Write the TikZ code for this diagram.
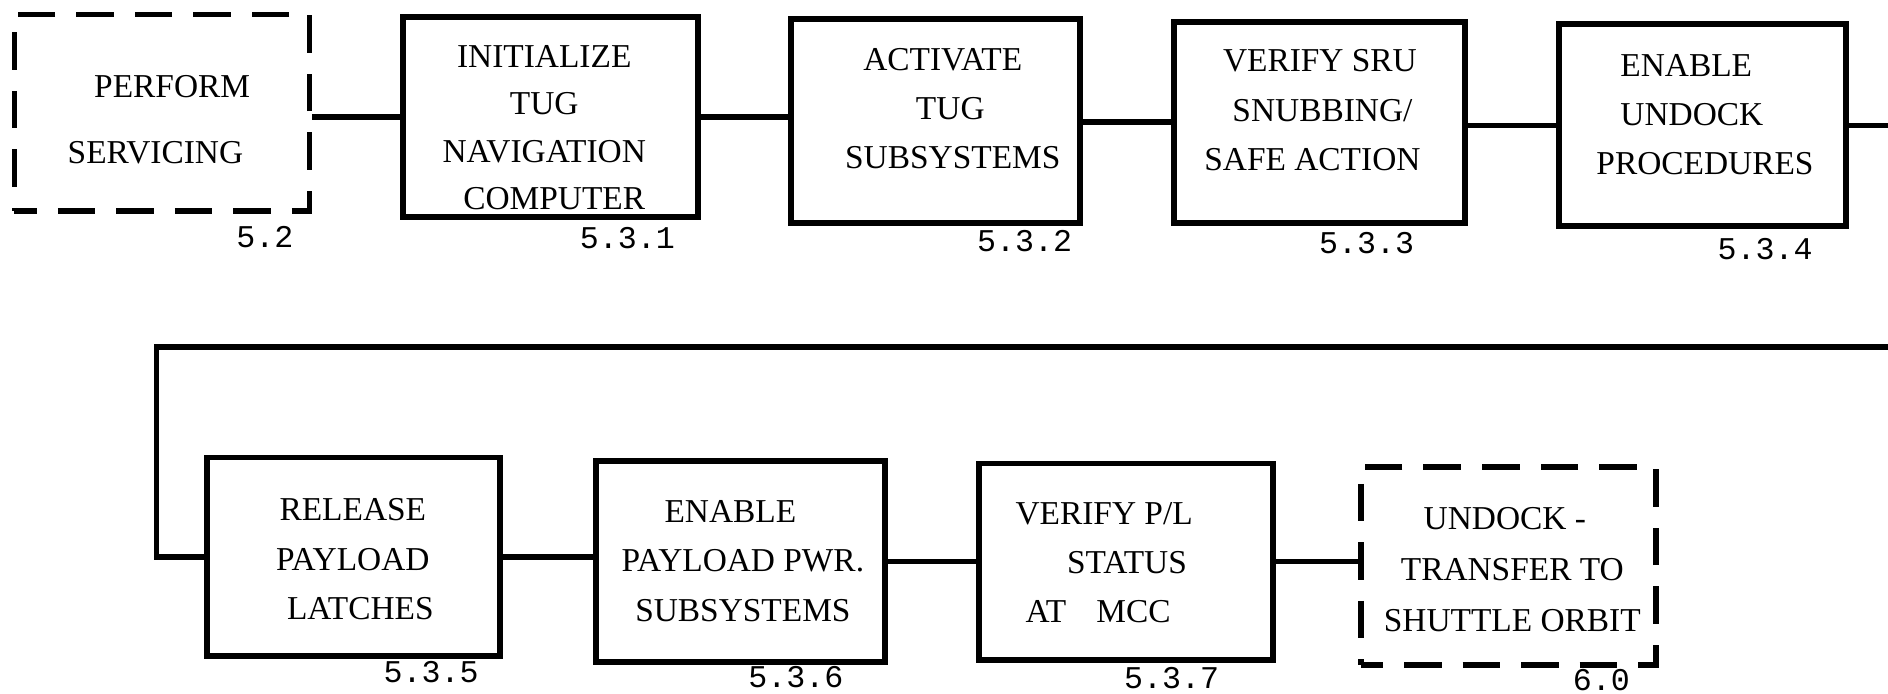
\documentclass[tikz,border=0pt]{standalone}
\usepackage{fontspec}
\setmainfont{Liberation Serif}
\setmonofont{Liberation Mono}
\usepackage{tikz}
\usetikzlibrary{positioning, calc}
\newcommand{\unitpx}{0.02408cm}

\begin{document}
\begin{tikzpicture}[
    x=0.02408cm, y=-0.02408cm,
    procbox/.style 2 args={draw, line width=3.3pt, minimum width=#1*\unitpx, minimum height=#2*\unitpx, inner sep=0pt},
    extbox/.style 2 args={procbox={#1}{#2}, dash pattern=on 0.75cm off 0.42cm, dash phase=0.3cm},
    txt/.style={align=center, font=\fontsize{19}{28}\selectfont, inner sep=0pt},
    num/.style={font=\ttfamily\fontsize{18}{18}\selectfont, inner sep=0pt},
    link/.style={line width=3.1pt},
]
    \useasboundingbox (0,0) rectangle (1568,576);

    % Top row
    \node[extbox={245}{163}] (perf) at (134.5, 93.5) {};
    \node[procbox={245}{166}] (init) at (457.5, 97) {};
    \node[procbox={240}{169}] (act) at (777, 100.5) {};
    \node[procbox={242}{167}] (sru) at (1096, 101.5) {};
    \node[procbox={238}{168}] (undk) at (1414, 104) {};

    % Bottom row
    \node[procbox={243}{165}] (rel) at (293.5, 462.5) {};
    \node[procbox={240}{167}] (pwr) at (615, 466.5) {};
    \node[procbox={244}{163}] (stat) at (935, 466.5) {};
    \node[extbox={245}{164}] (orb) at (1252.5, 470) {};

    % Box texts
    \node[txt, align=left] (perf-txt) at (132, 99.5) {\hspace*{0.53cm}PERFORM\\[9.7pt]SERVICING};
    \node[txt, font=\fontsize{19}{27}\selectfont] (init-txt) at (452, 106) {INITIALIZE\\TUG\\NAVIGATION\\\hspace*{0.4cm}COMPUTER};
    \node[txt] (act-txt) at (783, 90) {ACTIVATE\\\hspace*{0.3cm}TUG\\\hspace*{0.4cm}SUBSYSTEMS};
    \node[txt] (sru-txt) at (1090, 91.5) {\hspace*{0.3cm}VERIFY SRU\\\hspace*{0.4cm}SNUBBING/\\SAFE ACTION};
    \node[txt, align=left] (undk-txt) at (1416, 95) {\hspace*{0.48cm}ENABLE\\\hspace*{0.48cm}UNDOCK\\PROCEDURES};
    \node[txt] (rel-txt) at (293, 464.5) {RELEASE\\PAYLOAD\hspace*{0.3cm}\\\hspace*{0.3cm}LATCHES};
    \node[txt] (pwr-txt) at (617, 466) {ENABLE\hspace*{0.5cm}\\PAYLOAD PWR.\\SUBSYSTEMS};
    \node[txt, align=left] (stat-txt) at (917, 467.5) {VERIFY P/L\\\hspace*{1.03cm}STATUS\\\hspace*{0.2cm}AT\hspace*{0.6cm}MCC};
    \node[txt, font=\fontsize{19}{29}\selectfont] (orb-txt) at (1256, 473) {UNDOCK -\hspace*{0.3cm}\\TRANSFER TO\\SHUTTLE ORBIT};

    % Reference numbers
    \node[num] (n-perf) at (220, 197) {5.2};
    \node[num] (n-init) at (521, 198) {5.3.1};
    \node[num] (n-act) at (851, 200) {5.3.2};
    \node[num] (n-sru) at (1135, 202) {5.3.3};
    \node[num] (n-undk) at (1466, 207) {5.3.4};
    \node[num] (n-rel) at (358, 558) {5.3.5};
    \node[num] (n-pwr) at (661, 562) {5.3.6};
    \node[num] (n-stat) at (973, 563) {5.3.7};
    \node[num] (n-orb) at (1330, 565) {6.0};

    % Connectors
    \coordinate (edgeA) at (1568, 103);
    \coordinate (edgeB) at (1568, 288);
    \coordinate (turn) at (130, 288);
    \draw[link] (init.west) -- (init.west -| perf.east);
    \draw[link] (init.east) -- (init.east -| act.west);
    \draw[link] (sru.west) -- (sru.west -| act.east);
    \draw[link] (undk.west) -- (undk.west -| sru.east);
    \draw[link] (undk.east) -- (undk.east -| edgeA);
    \draw[link] (edgeB) -- (turn) |- (rel.west);
    \draw[link] (rel.east) -- (rel.east -| pwr.west);
    \draw[link] (pwr.east) -- (pwr.east -| stat.west);
    \draw[link] (stat.east) -- (stat.east -| orb.west);
\end{tikzpicture}
\end{document}
